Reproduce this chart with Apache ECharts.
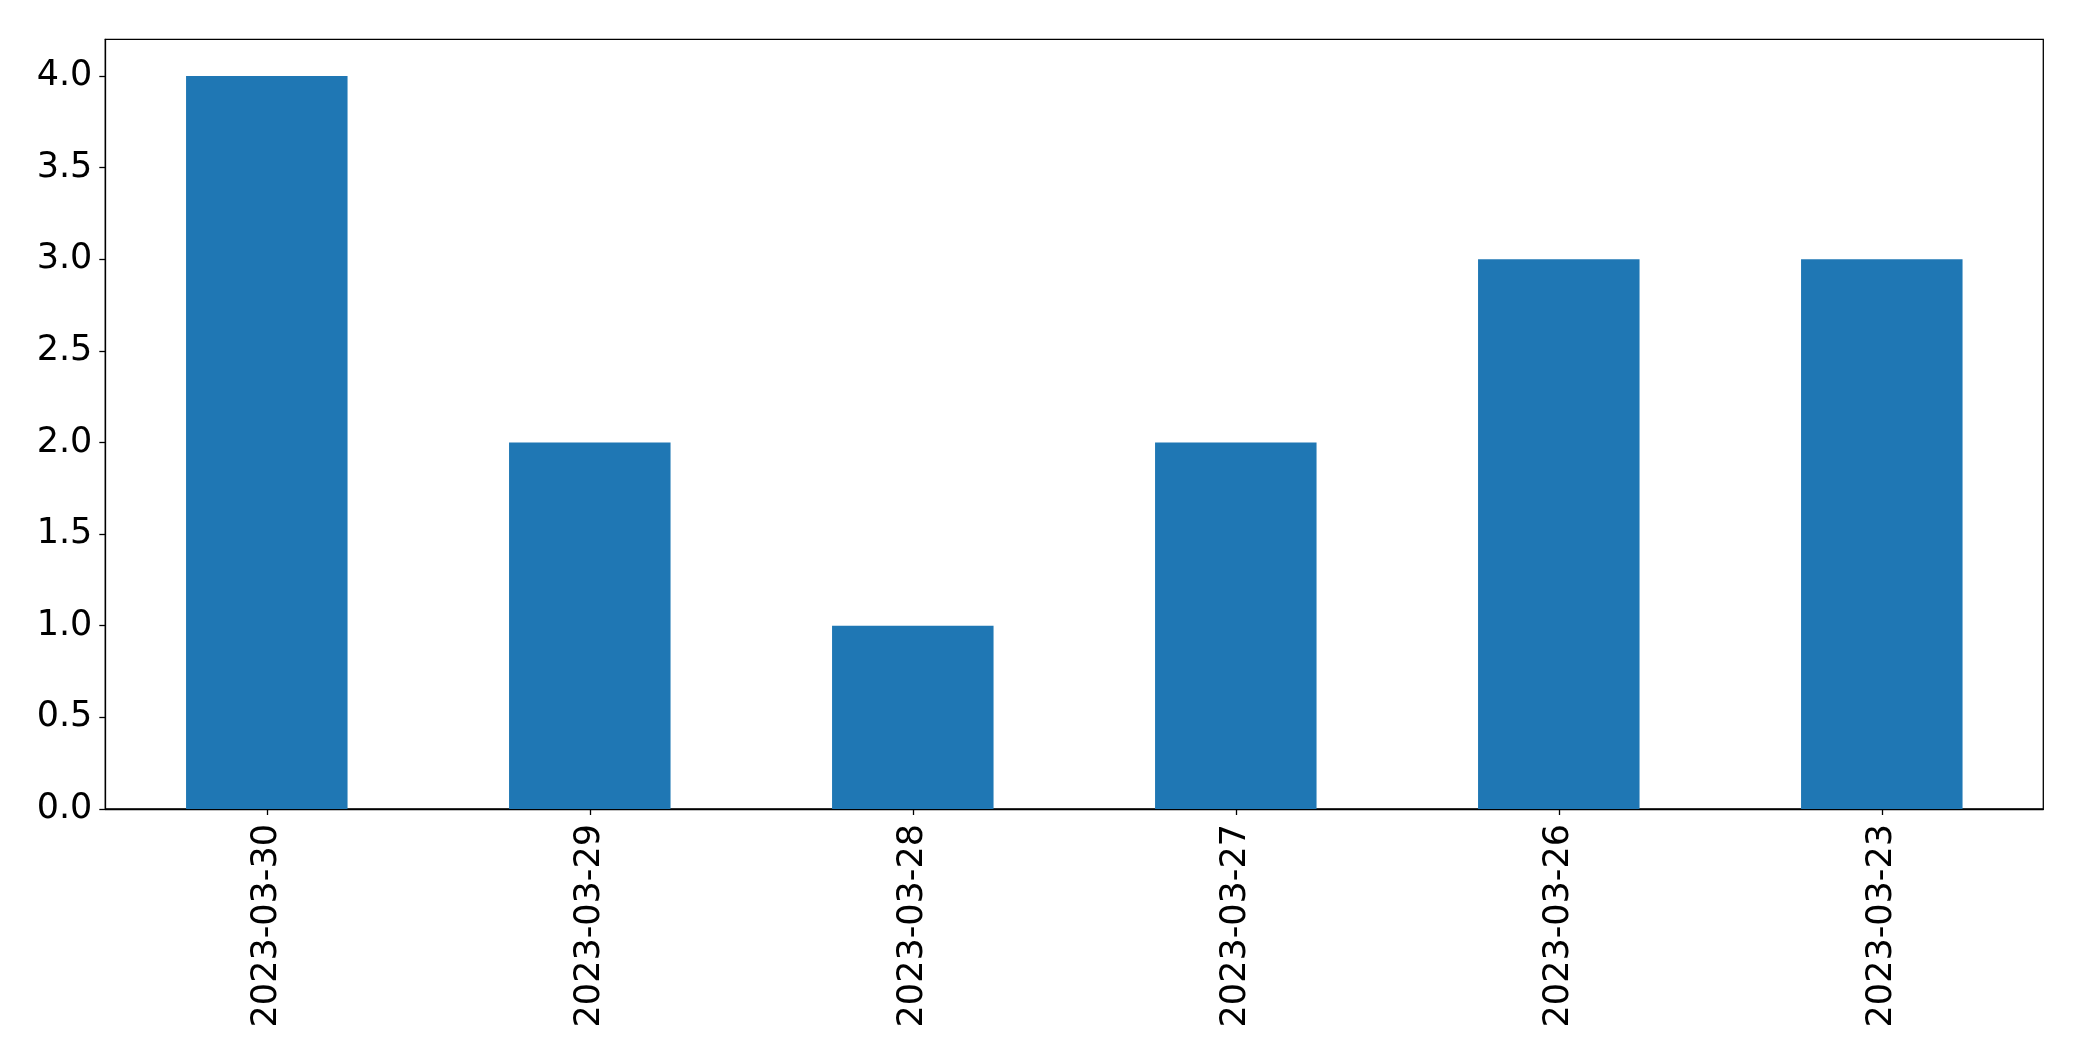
<!DOCTYPE html>
<html>
<head>
<meta charset="utf-8">
<script src="https://cdn.jsdelivr.net/npm/echarts@6/dist/echarts.min.js"></script>
<style>
html,body{margin:0;padding:0;background:#fff;}
#chart{width:2082px;height:1061px;}
</style>
</head>
<body>
<div id="chart"></div>
<script>
const categories = ['2023-03-30','2023-03-29','2023-03-28','2023-03-27','2023-03-26','2023-03-23'];
const values = [4, 2, 1, 2, 3, 3];
const yTicks = [0, 0.5, 1.0, 1.5, 2.0, 2.5, 3.0, 3.5, 4.0];

const chart = echarts.init(document.getElementById('chart'), null, {renderer: 'canvas'});
const font = 'DejaVu Sans';
chart.setOption({
  animation: false,
  backgroundColor: '#ffffff',
  grid: {
    left: 105.3, top: 39.3, right: 38.7, bottom: 252,
    show: true, borderColor: '#000', borderWidth: 1.3, backgroundColor: 'transparent'
  },
  xAxis: {
    type: 'category',
    data: categories,
    boundaryGap: true,
    axisLine: {show: true, lineStyle: {color: '#000', width: 1.3}},
    axisTick: {show: true, alignWithLabel: true, length: 6, lineStyle: {color: '#000', width: 1.3}},
    axisLabel: {rotate: 90, margin: 15, color: '#000', fontSize: 35, fontFamily: font, interval: 0},
    splitLine: {show: false}
  },
  yAxis: {
    type: 'value',
    min: 0, max: 4.2,
    axisLine: {show: true, lineStyle: {color: '#000', width: 1.3}},
    axisTick: {show: true, length: 6, customValues: yTicks, lineStyle: {color: '#000', width: 1.3}},
    axisLabel: {customValues: yTicks, margin: 13, color: '#000', fontSize: 35, fontFamily: font,
      formatter: v => Number(v).toFixed(1)},
    splitLine: {show: false}
  },
  series: [{
    type: 'bar',
    data: values,
    barWidth: '50%',
    itemStyle: {color: '#1f77b4'}
  }]
});
</script>
</body>
</html>
